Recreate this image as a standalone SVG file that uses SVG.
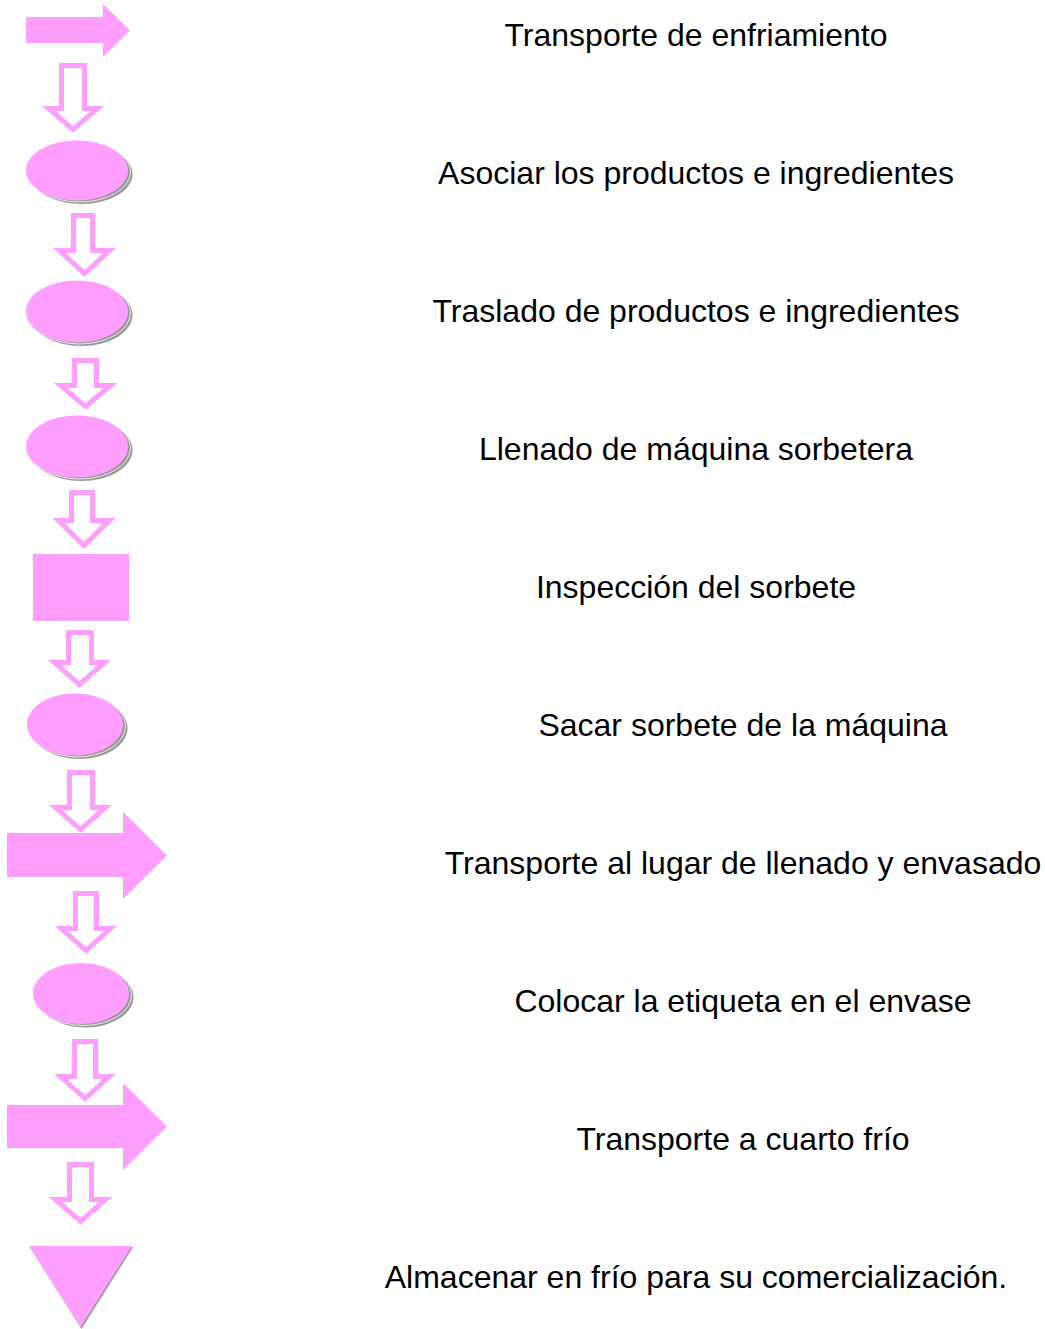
<svg xmlns="http://www.w3.org/2000/svg" width="1045" height="1329" viewBox="0 0 1045 1329">
<style>
.shape{fill:#FF9EFF}
.shadow{fill:#999999}
.sline{fill:none;stroke:#FFFFFF;stroke-width:0.8}
.hollow{fill:#FFFFFF;stroke:#FF9EFF;stroke-width:5;stroke-linejoin:miter}
.lbl{font-family:"Liberation Sans",Arial,sans-serif;font-size:32px;fill:#000000;text-anchor:middle}
</style>
<rect width="1045" height="1329" fill="#FFFFFF"/>
<g id="connectors">
<polygon class="hollow" points="61.5,65.5 84.5,65.5 84.5,108.5 97.5,108.5 73,129.5 48.5,108.5 61.5,108.5"/>
<polygon class="hollow" points="73.5,215.5 92.5,215.5 92.5,250.5 109.5,250.5 84.5,273.5 59.5,250.5 73.5,250.5"/>
<polygon class="hollow" points="74.5,360.5 96.5,360.5 96.5,385.5 110.5,385.5 85.5,406.5 60.5,385.5 74.5,385.5"/>
<polygon class="hollow" points="71.5,492.5 92.5,492.5 92.5,520.5 109.5,520.5 84,545.5 58.5,520.5 71.5,520.5"/>
<polygon class="hollow" points="68.5,632.5 91.5,632.5 91.5,662.5 104.5,662.5 79.5,684.5 54.5,662.5 68.5,662.5"/>
<polygon class="hollow" points="69.5,772.5 92.5,772.5 92.5,807.5 105.5,807.5 80.5,829.5 55.5,807.5 69.5,807.5"/>
<polygon class="hollow" points="75.5,893.5 96.5,893.5 96.5,928.5 110.5,928.5 86,950.5 61.5,928.5 75.5,928.5"/>
<polygon class="hollow" points="74.5,1041.5 95.5,1041.5 95.5,1076.5 109.5,1076.5 85,1098.5 60.5,1076.5 74.5,1076.5"/>
<polygon class="hollow" points="69.5,1164.5 91.5,1164.5 91.5,1199.5 105.5,1199.5 80.5,1221.5 55.5,1199.5 69.5,1199.5"/>
</g>
<g id="n1">
<polygon class="shape" points="26,17 103,17 103,4 130,30.5 103,57 103,43 26,43"/>
<text class="lbl" x="696" y="46">Transporte de enfriamiento</text>
</g>
<g id="n2">
<ellipse class="shadow" cx="81.5" cy="174" rx="51" ry="30"/>
<ellipse class="sline" cx="79.5" cy="172" rx="51" ry="30"/>
<ellipse class="shape" cx="77" cy="170.5" rx="51" ry="30"/>
<text class="lbl" x="696" y="184">Asociar los productos e ingredientes</text>
</g>
<g id="n3">
<ellipse class="shadow" cx="81.5" cy="315" rx="51" ry="31"/>
<ellipse class="sline" cx="79.5" cy="313" rx="51" ry="31"/>
<ellipse class="shape" cx="77" cy="311.5" rx="51" ry="31"/>
<text class="lbl" x="696" y="322">Traslado de productos e ingredientes</text>
</g>
<g id="n4">
<ellipse class="shadow" cx="81.5" cy="450" rx="51" ry="31"/>
<ellipse class="sline" cx="79.5" cy="448" rx="51" ry="31"/>
<ellipse class="shape" cx="77" cy="446.5" rx="51" ry="31"/>
<text class="lbl" x="696" y="460">Llenado de máquina sorbetera</text>
</g>
<g id="n5">
<rect class="shape" x="33" y="554" width="96" height="67"/>
<text class="lbl" x="696" y="598">Inspección del sorbete</text>
</g>
<g id="n6">
<ellipse class="shadow" cx="79.5" cy="728" rx="48" ry="31"/>
<ellipse class="sline" cx="77.5" cy="726" rx="48" ry="31"/>
<ellipse class="shape" cx="75" cy="724.5" rx="48" ry="31"/>
<text class="lbl" x="743" y="736">Sacar sorbete de la máquina</text>
</g>
<g id="n7">
<polygon class="shape" points="7,833 123,833 123,812 167,855.5 123,899 123,877 7,877"/>
<text class="lbl" x="743" y="874">Transporte al lugar de llenado y envasado</text>
</g>
<g id="n8">
<ellipse class="shadow" cx="85.5" cy="997" rx="48" ry="30.5"/>
<ellipse class="sline" cx="83.5" cy="995" rx="48" ry="30.5"/>
<ellipse class="shape" cx="81" cy="993.5" rx="48" ry="30.5"/>
<text class="lbl" x="743" y="1012">Colocar la etiqueta en el envase</text>
</g>
<g id="n9">
<polygon class="shape" points="7,1105 123,1105 123,1083 167,1126.5 123,1170 123,1148 7,1148"/>
<text class="lbl" x="743" y="1150">Transporte a cuarto frío</text>
</g>
<g id="n10">
<polygon class="shadow" points="30,1247 133,1247 81.5,1329"/>
<polygon class="shape" points="29,1246 132,1246 80.5,1327"/>
<text class="lbl" x="696" y="1288">Almacenar en frío para su comercialización.</text>
</g>
</svg>
